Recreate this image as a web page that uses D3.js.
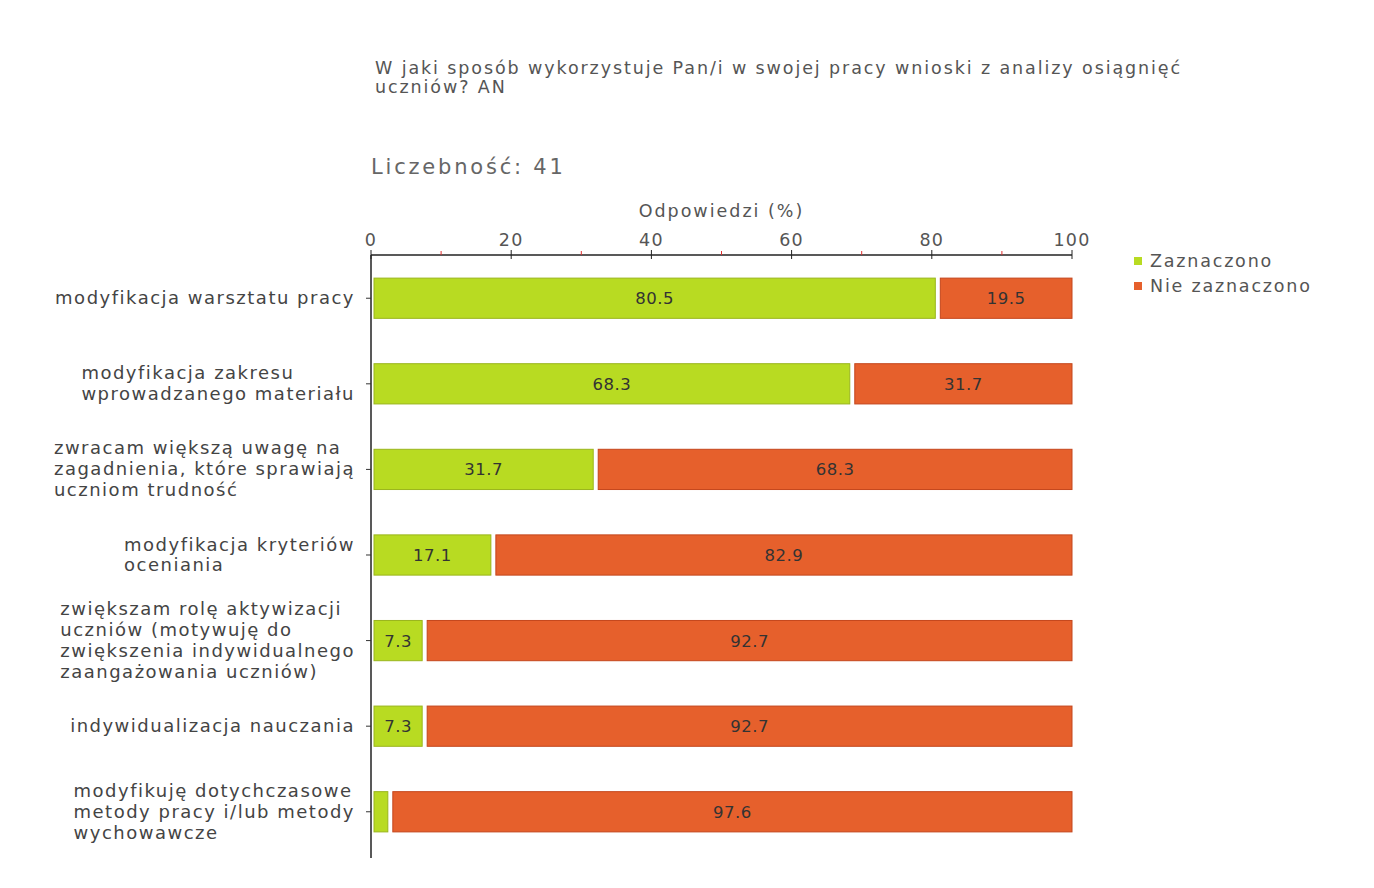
<!DOCTYPE html>
<html>
<head>
<meta charset="utf-8">
<script src="https://cdn.jsdelivr.net/npm/d3@7"></script>
<style>
  body { margin: 0; background: #fff; }
  text { font-family: Verdana, "DejaVu Sans", sans-serif; }
</style>
</head>
<body>
<svg id="chart"></svg>
<script>
const categories = [
  ["modyfikacja warsztatu pracy"],
  ["modyfikacja zakresu", "wprowadzanego materiału"],
  ["zwracam większą uwagę na", "zagadnienia, które sprawiają", "uczniom trudność"],
  ["modyfikacja kryteriów", "oceniania"],
  ["zwiększam rolę aktywizacji", "uczniów (motywuję do", "zwiększenia indywidualnego", "zaangażowania uczniów)"],
  ["indywidualizacja nauczania"],
  ["modyfikuję dotychczasowe", "metody pracy i/lub metody", "wychowawcze"]
];
const zaznaczono = [80.5, 68.3, 31.7, 17.1, 7.3, 7.3, 2.4];
const nieZaznaczono = [19.5, 31.7, 68.3, 82.9, 92.7, 92.7, 97.6];
const seriesNames = ["Zaznaczono", "Nie zaznaczono"];
const majorTicks = [0, 20, 40, 60, 80, 100];
const minorTicks = [10, 30, 50, 70, 90];

const width = 1374;
const height = 888;
const green = "#b8db22";
const greenStroke = "#9ab51c";
const orange = "#e6602c";
const orangeStroke = "#c4461c";
const textColor = "#555";

const svg = d3.select("#chart").attr("width", width).attr("height", height);

// titles
const title = svg.append("text")
  .attr("x", 375)
  .attr("y", 74)
  .style("font-size", "17.5px")
  .style("letter-spacing", "1.9px")
  .style("fill", textColor);
title.append("tspan").attr("x", 375).text("W jaki sposób wykorzystuje Pan/i w swojej pracy wnioski z analizy osiągnięć");
title.append("tspan").attr("x", 375).attr("dy", 19).text("uczniów? AN");

svg.append("text")
  .attr("x", 371)
  .attr("y", 174)
  .style("font-size", "21px")
  .style("letter-spacing", "2.8px")
  .style("fill", "#666")
  .text("Liczebność: 41");

const x = d3.scaleLinear().domain([0, 100]).range([371, 1072]);
const y = d3.scaleBand()
  .domain(d3.range(categories.length))
  .range([255, 855])
  .paddingInner(0.53)
  .paddingOuter(0.27);

// axis title
svg.append("text")
  .attr("x", (x(0) + x(100)) / 2)
  .attr("y", 217)
  .attr("text-anchor", "middle")
  .style("font-size", "17.5px")
  .style("letter-spacing", "2px")
  .style("fill", textColor)
  .text("Odpowiedzi (%)");

// top axis
const axisG = svg.append("g").attr("transform", "translate(0,255)");
axisG.append("line")
  .attr("x1", x(0)).attr("x2", x(100))
  .attr("stroke", "#222").attr("stroke-width", 1.5);
axisG.selectAll(".major")
  .data(majorTicks)
  .enter()
  .append("line")
  .attr("x1", (d) => x(d)).attr("x2", (d) => x(d))
  .attr("y1", -5).attr("y2", 4)
  .attr("stroke", "#222");
axisG.selectAll(".minor")
  .data(minorTicks)
  .enter()
  .append("line")
  .attr("x1", (d) => x(d)).attr("x2", (d) => x(d))
  .attr("y1", -4).attr("y2", 0)
  .attr("stroke", "#e03030");
axisG.selectAll(".tick-label")
  .data(majorTicks)
  .enter()
  .append("text")
  .attr("x", (d) => x(d))
  .attr("y", -9)
  .attr("text-anchor", "middle")
  .style("font-size", "17.5px")
  .style("letter-spacing", "1.2px")
  .style("fill", textColor)
  .text((d) => d);

// vertical axis line
svg.append("line")
  .attr("x1", x(0)).attr("x2", x(0))
  .attr("y1", 255).attr("y2", 858)
  .attr("stroke", "#222").attr("stroke-width", 1.5);

const rows = svg.selectAll(".row")
  .data(categories)
  .enter()
  .append("g")
  .attr("transform", (d, i) => `translate(0,${y(i)})`);

const bh = y.bandwidth();

// category ticks
rows.append("line")
  .attr("x1", x(0) - 5).attr("x2", x(0))
  .attr("y1", bh / 2).attr("y2", bh / 2)
  .attr("stroke", "#333");

// green segment
rows.append("rect")
  .attr("x", x(0) + 3)
  .attr("y", 0)
  .attr("width", (d, i) => x(zaznaczono[i]) - x(0) - 3)
  .attr("height", bh)
  .attr("fill", green)
  .attr("stroke", greenStroke);

// orange segment
rows.append("rect")
  .attr("x", (d, i) => x(zaznaczono[i]) + 5)
  .attr("y", 0)
  .attr("width", (d, i) => x(100) - x(zaznaczono[i]) - 5)
  .attr("height", bh)
  .attr("fill", orange)
  .attr("stroke", orangeStroke);

// value labels
rows.filter((d, i) => zaznaczono[i] >= 5)
  .append("text")
  .attr("x", (d) => (x(0) + 3 + x(zaznaczono[categories.indexOf(d)])) / 2)
  .attr("y", bh / 2 + 6)
  .attr("text-anchor", "middle")
  .style("font-size", "16.5px")
  .style("letter-spacing", "0.5px")
  .style("fill", "#333")
  .text((d) => zaznaczono[categories.indexOf(d)].toFixed(1));

rows.append("text")
  .attr("x", (d, i) => (x(zaznaczono[i]) + 5 + x(100)) / 2)
  .attr("y", bh / 2 + 6)
  .attr("text-anchor", "middle")
  .style("font-size", "16.5px")
  .style("letter-spacing", "0.5px")
  .style("fill", "#333")
  .text((d, i) => nieZaznaczono[i].toFixed(1));

// category labels: left-aligned block whose longest line ends near the axis
rows.append("text")
  .style("font-size", "18px")
  .style("letter-spacing", "1.5px")
  .style("fill", "#444")
  .each(function (d) {
    const lh = 21;
    const startY = bh / 2 + 6 - ((d.length - 1) * lh) / 2;
    const spans = d3.select(this)
      .selectAll("tspan")
      .data(d)
      .enter()
      .append("tspan")
      .attr("y", (t, j) => startY + j * lh)
      .text((t) => t);
    let maxW = 0;
    spans.each(function () {
      maxW = Math.max(maxW, this.getComputedTextLength());
    });
    spans.attr("x", 355 - maxW);
  });

// legend
const legend = svg.append("g").attr("transform", "translate(1134,261)");
const legendColors = [green, orange];
legend.selectAll("rect")
  .data(seriesNames)
  .enter()
  .append("rect")
  .attr("x", 0)
  .attr("y", (d, i) => i * 25 - 4)
  .attr("width", 8)
  .attr("height", 8)
  .attr("fill", (d, i) => legendColors[i]);
legend.selectAll("text")
  .data(seriesNames)
  .enter()
  .append("text")
  .attr("x", 16)
  .attr("y", (d, i) => i * 25 + 6)
  .style("font-size", "17.5px")
  .style("letter-spacing", "1.8px")
  .style("fill", textColor)
  .text((d) => d);
</script>
</body>
</html>
